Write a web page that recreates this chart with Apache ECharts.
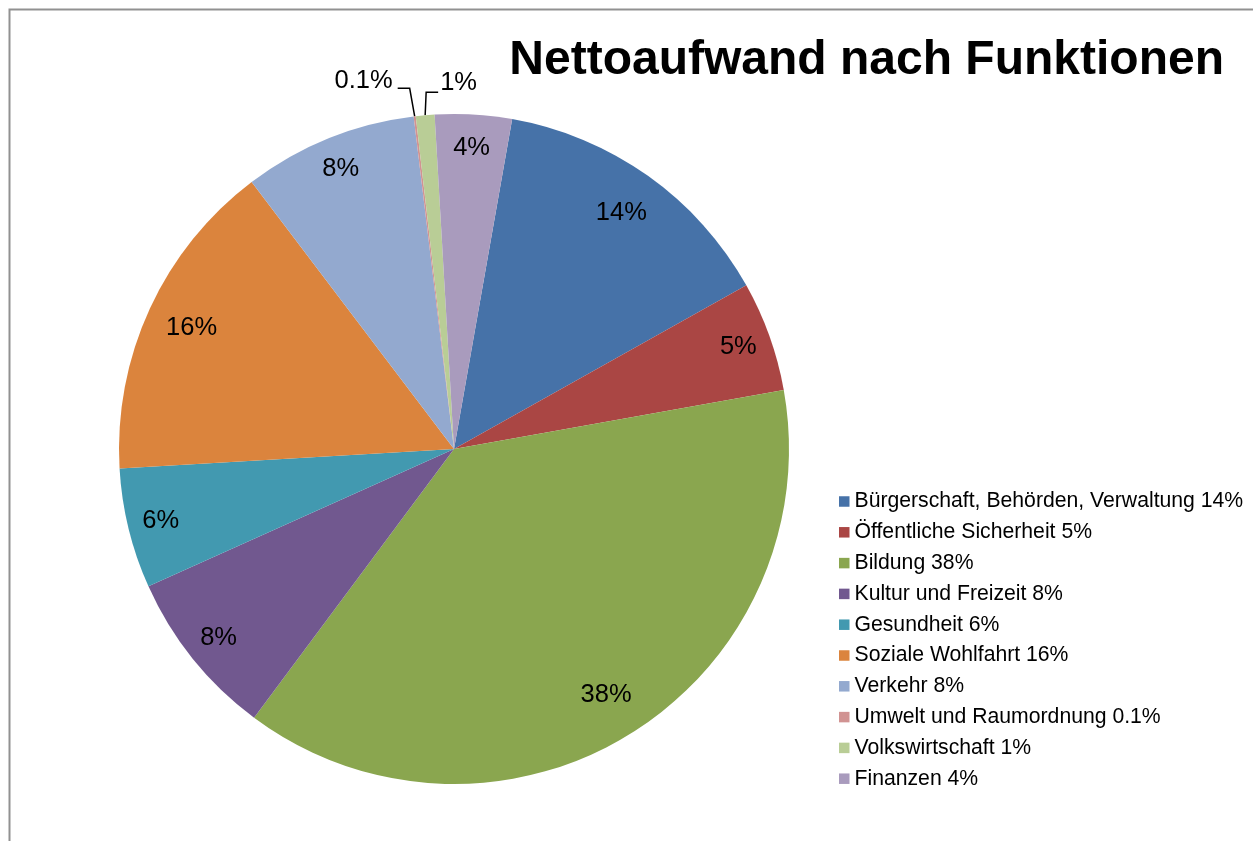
<!DOCTYPE html>
<html>
<head>
<meta charset="utf-8">
<script src="https://cdn.jsdelivr.net/npm/echarts@6/dist/echarts.min.js"></script>
<style>
  html, body {margin: 0; padding: 0; background: #fff;}
  #chart {width: 1253px; height: 841px;}
</style>
</head>
<body>
<div id="chart"></div>
<script>
const categories = [
  'Bürgerschaft, Behörden, Verwaltung',
  'Öffentliche Sicherheit',
  'Bildung',
  'Kultur und Freizeit',
  'Gesundheit',
  'Soziale Wohlfahrt',
  'Verkehr',
  'Umwelt und Raumordnung',
  'Volkswirtschaft',
  'Finanzen'
];
const shares = [14.1, 5.3, 38.0, 8.1, 5.8, 15.6, 8.4, 0.1, 0.9, 3.7];
const colors = ['#4672a8', '#aa4644', '#8aa64f', '#71588f', '#4299b0',
  '#db843d', '#93a9cf', '#d19392', '#b9cd96', '#a99bbd'];
// small slices get an outside label; these ones point to the right
const rightLabels = ['Volkswirtschaft'];

const font = "'Liberation Sans', Arial, sans-serif";
const fmt = v => (v < 0.5 ? v.toFixed(1) : Math.round(v)) + '%';
const cx = 454, cy = 449, R = 335;

const chart = echarts.init(document.getElementById('chart'));

const pieData = categories.map((name, i) => ({name, value: shares[i]}));
const labelData = categories.map((name, i) => {
  const item = {name, value: shares[i]};
  if (shares[i] < 2) {
    item.label = {position: 'outside'};
    item.labelLine = {show: true};
  }
  return item;
});

chart.setOption({
  animation: false,
  color: colors,
  title: {
    text: 'Nettoaufwand nach Funktionen',
    right: 29,
    top: 37,
    padding: 0,
    textStyle: {fontFamily: font, fontSize: 48, fontWeight: 'bold', color: '#000', lineHeight: 48}
  },
  legend: {
    orient: 'vertical',
    left: 839,
    top: 491,
    padding: 0,
    icon: 'rect',
    itemWidth: 10.5,
    itemHeight: 10.5,
    itemGap: 9.8,
    data: categories,
    formatter: name => name + ' ' + fmt(shares[categories.indexOf(name)]),
    textStyle: {fontFamily: font, fontSize: 21.2, lineHeight: 21, color: '#000'}
  },
  graphic: [{
    type: 'polyline',
    shape: {points: [[9.5, 841], [9.5, 9.5], [1253, 9.5]]},
    style: {stroke: '#919191', lineWidth: 2, fill: null},
    silent: true
  }],
  series: [{
    name: 'Nettoaufwand',
    type: 'pie',
    center: [cx, cy],
    radius: R,
    startAngle: 80,
    clockwise: true,
    label: {show: false},
    labelLine: {show: false},
    emphasis: {disabled: true},
    itemStyle: {borderWidth: 0},
    data: pieData
  }, {
    name: 'labels',
    type: 'pie',
    center: [cx, cy],
    radius: [263, R],
    startAngle: 80,
    clockwise: true,
    silent: true,
    avoidLabelOverlap: false,
    emphasis: {disabled: true},
    itemStyle: {color: 'rgba(0,0,0,0)'},
    label: {
      show: true,
      position: 'inside',
      formatter: p => fmt(p.value),
      fontFamily: font,
      fontSize: 25.5,
      color: '#000'
    },
    labelLine: {show: false, length: 26, length2: 12, lineStyle: {color: '#000', width: 1.5}},
    labelLayout: p => {
      if (shares[p.dataIndex] >= 2) {
        // wider labels sit a little further in, as in the spreadsheet chart
        const r = p.labelRect;
        const mx = r.x + r.width / 2, my = r.y + r.height / 2;
        const d = Math.hypot(mx - cx, my - cy);
        const shift = Math.max(0, r.width - 37) * 0.93;
        const k = (d - shift) / d;
        return {x: cx + (mx - cx) * k, y: cy + (my - cy) * k, align: 'center', verticalAlign: 'middle'};
      }
      if (!p.labelLinePoints) return {};
      const a = p.labelLinePoints[0];
      if (rightLabels.indexOf(categories[p.dataIndex]) >= 0) {
        const b = [a[0] + 1, a[1] - 23];
        return {
          x: b[0] + 14, y: b[1] - 9, align: 'left', verticalAlign: 'middle',
          labelLinePoints: [a, b, [b[0] + 12, b[1]]]
        };
      }
      const b = [a[0] - 5, a[1] - 28];
      return {
        x: b[0] - 17, y: b[1] - 7, align: 'right', verticalAlign: 'middle',
        labelLinePoints: [a, b, [b[0] - 12, b[1]]]
      };
    },
    data: labelData
  }]
});
</script>
</body>
</html>
